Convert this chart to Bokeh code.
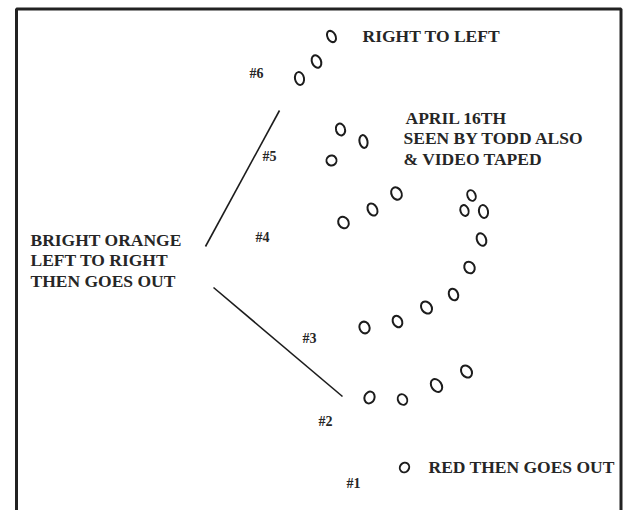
from bokeh.plotting import figure
from bokeh.models import Range1d
from bokeh.core.properties import value
from bokeh.embed import file_html
from bokeh.resources import INLINE

# Sketch positions (pixel coordinates of the original drawing, y downward)
oval_x = [331, 316, 299,            # group 6
          340, 363, 331,            # group 5
          343, 372, 396, 471, 464, 483, 481, 469, 453, 426, 397, 364,  # group 4/3 arc
          369, 402, 436, 466,       # group 2
          404]                      # group 1
oval_y = [36, 61, 78,
          129, 141, 160,
          222, 209, 193, 195, 210, 211, 239, 267, 294, 307, 321, 327,
          397, 399, 385, 371,
          467]
oval_w = [8, 9, 9, 9, 8, 10, 10, 9, 10, 8, 8, 9, 9, 10, 9, 10, 9, 10, 12, 9, 10, 10, 10]
oval_h = [12, 13, 13, 12, 13, 10, 12, 13, 13, 11, 11, 13, 13, 12, 12, 13, 12, 12, 10, 11, 14, 13, 9]
oval_tilt = [0.5, 0.4, 0.2, 0.3, 0.2, 0.6, 0.6, 0.5, 0.5, 0.4, 0.3, 0.2, 0.4, 0.5, 0.4, 0.6, 0.5, 0.4, 1.2, 0.5, 0.6, 0.6, 0.9]

line_x0 = [279, 213]
line_y0 = [110, 287]
line_x1 = [205, 342]
line_y1 = [246, 396]

note_text = ["RIGHT TO LEFT", "APRIL 16TH", "SEEN BY TODD ALSO", "& VIDEO TAPED",
             "BRIGHT ORANGE", "LEFT TO RIGHT", "THEN GOES OUT", "RED THEN GOES OUT"]
note_x = [362, 405, 403, 403, 30, 30, 30, 428]
note_y = [35, 117, 137, 158, 239, 259, 280, 466]

num_text = ["#6", "#5", "#4", "#3", "#2", "#1"]
num_x = [249, 262, 255, 302, 318, 346]
num_y = [73, 156, 237, 338, 421, 483]

frame_x = [16, 16, 620.5, 620.5]
frame_y = [510, 8.5, 8.5, 510]

INK = "#1c1c1c"

p = figure(width=626, height=510, x_range=Range1d(0, 626), y_range=Range1d(510, 0),
           output_backend="svg", toolbar_location=None, min_border=0)
p.axis.visible = False
p.grid.visible = False
p.outline_line_color = None
p.background_fill_color = "white"
p.border_fill_color = "white"

p.line(frame_x, frame_y, line_color="#222222", line_width=3)

p.segment(x0=line_x0, y0=line_y0, x1=line_x1, y1=line_y1, line_color=INK, line_width=1.6)

p.ellipse(x=oval_x, y=oval_y, width=oval_w, height=oval_h, angle=oval_tilt,
          fill_color=None, line_color=INK, line_width=2)

p.text(x=note_x, y=note_y, text=note_text, text_font=value("Liberation Serif"),
       text_font_style="bold", text_font_size="17.5px", text_color="#262626",
       text_baseline="middle", text_align="left")

p.text(x=num_x, y=num_y, text=num_text, text_font=value("Liberation Serif"),
       text_font_style="bold", text_font_size="14px", text_color="#262626",
       text_baseline="middle", text_align="left")

open("out.html", "w").write(file_html(p, INLINE))
